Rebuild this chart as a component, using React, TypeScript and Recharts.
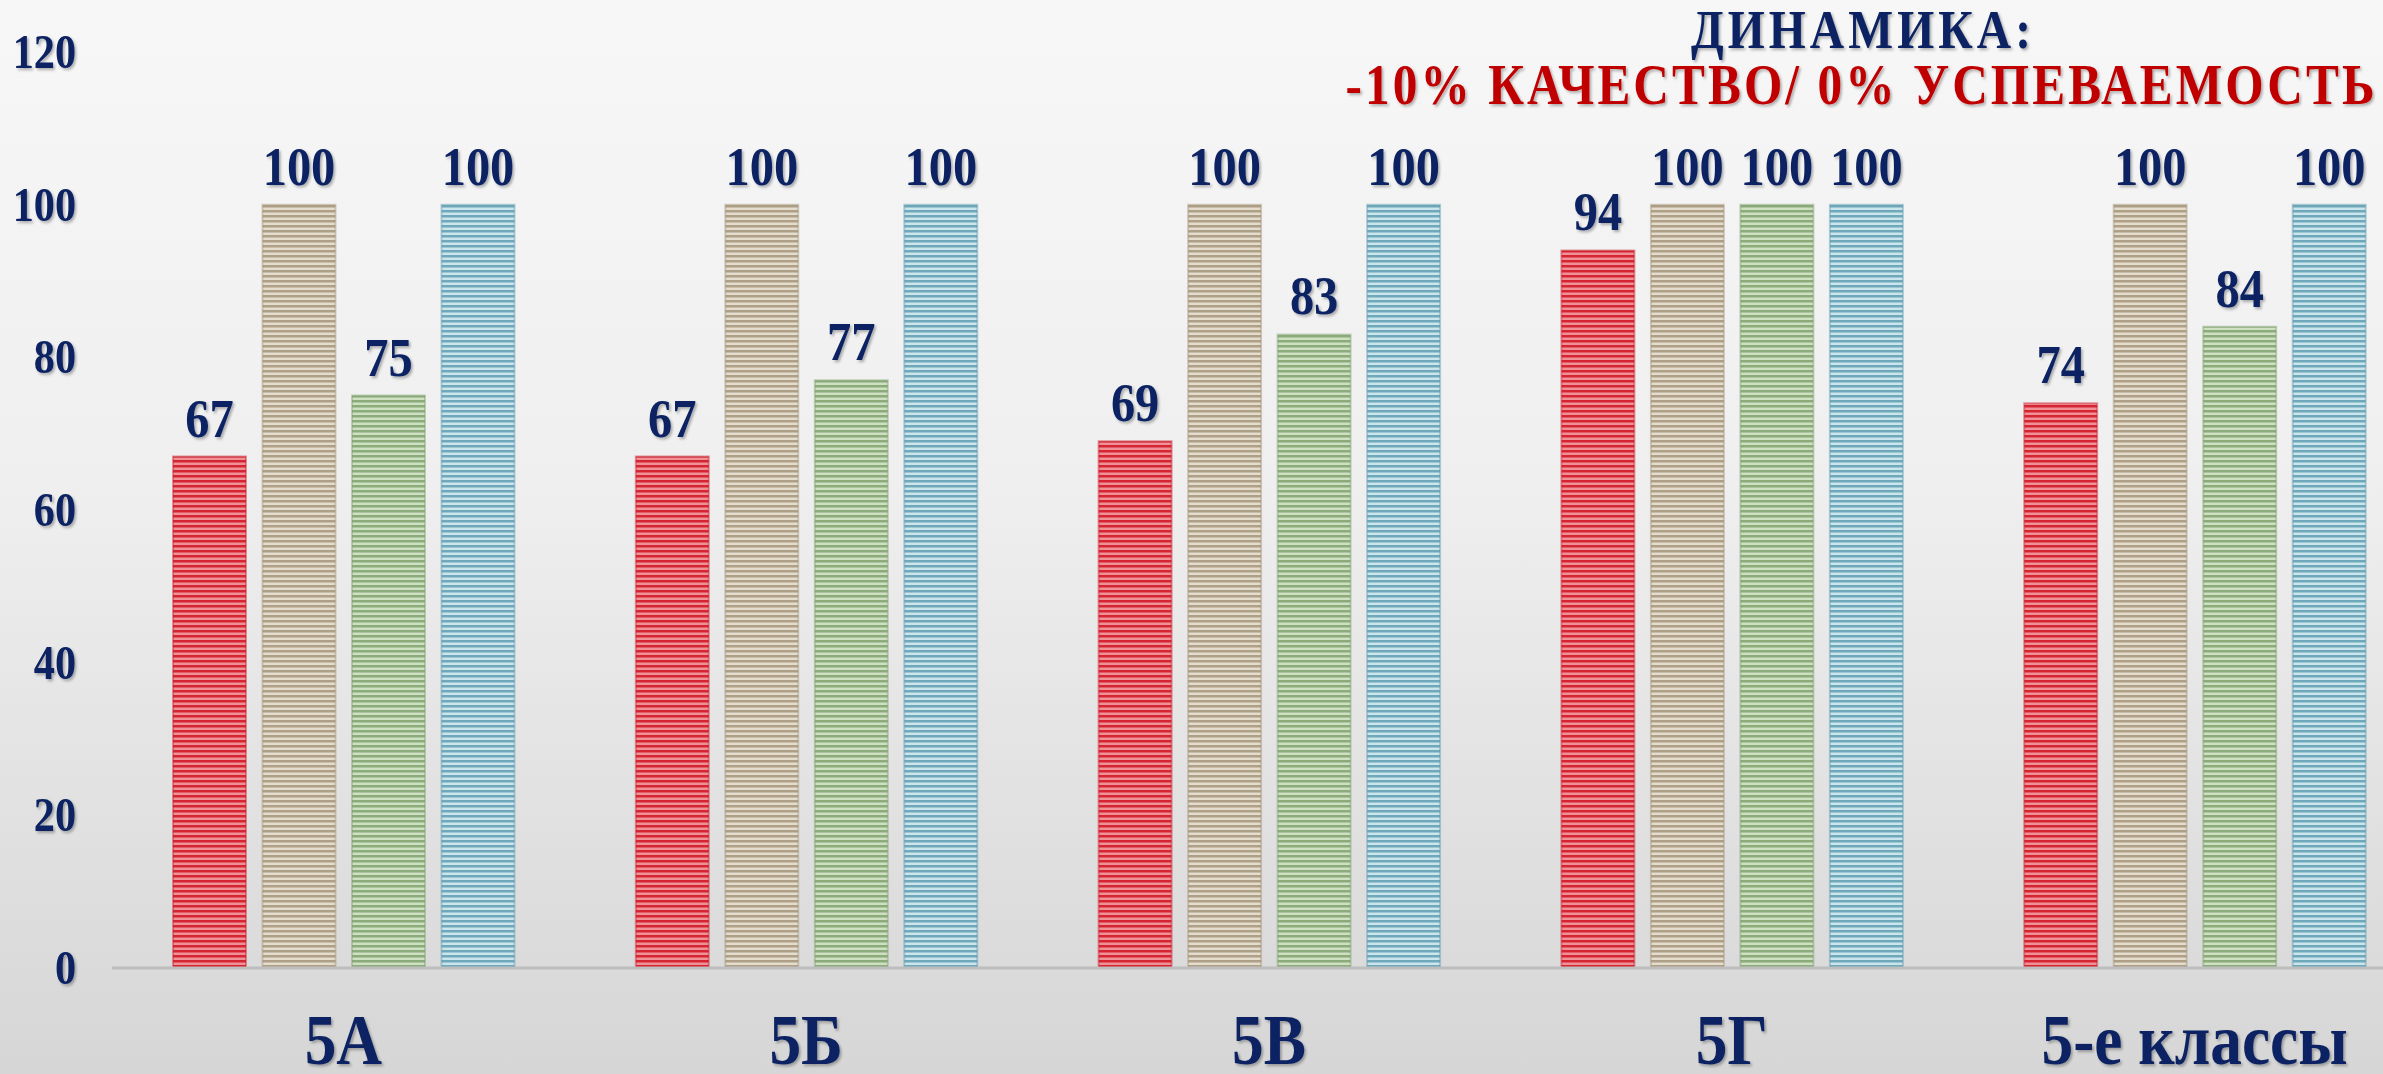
import React from 'react';
import { Bar, BarChart, LabelList, XAxis, YAxis } from 'recharts';

const classes = ['5А', '5Б', '5В', '5Г', '5-е классы'];
const qualityBefore = [67, 67, 69, 94, 74];
const progressBefore = [100, 100, 100, 100, 100];
const qualityAfter = [75, 77, 83, 100, 84];
const progressAfter = [100, 100, 100, 100, 100];
const yTicks = [0, 20, 40, 60, 80, 100, 120];
const titleLine1 = 'ДИНАМИКА:';
const titleLine2 = '-10% КАЧЕСТВО/ 0% УСПЕВАЕМОСТЬ';

const data = classes.map((name, i) => ({
  name,
  q1: qualityBefore[i],
  p1: progressBefore[i],
  q2: qualityAfter[i],
  p2: progressAfter[i],
}));

const NAVY = '#0b2462';
const RED_TEXT = '#c00000';
const FONT = '"Liberation Serif", "Times New Roman", serif';
const SQUEEZE = 0.88;

const ValueLabel = (props: any) => {
  const { x, y, width, value } = props;
  const cx = Number(x) + Number(width) / 2;
  const cy = Number(y) - 20;
  return (
    <text
      transform={`translate(${cx},${cy}) scale(${SQUEEZE},1)`}
      textAnchor="middle"
      fill={NAVY}
      fontFamily={FONT}
      fontWeight="bold"
      fontSize={55}
      filter="url(#textShadow)"
    >
      {value}
    </text>
  );
};

const YTick = (props: any) => {
  const { x, y, payload } = props;
  return (
    <text
      transform={`translate(${x},${y}) scale(${SQUEEZE},1)`}
      textAnchor="end"
      dominantBaseline="central"
      fill={NAVY}
      fontFamily={FONT}
      fontWeight="bold"
      fontSize={48}
      filter="url(#textShadow)"
    >
      {payload.value}
    </text>
  );
};

const XTick = (props: any) => {
  const { x, y, payload } = props;
  return (
    <text
      transform={`translate(${x},${y + 96}) scale(${SQUEEZE},1)`}
      textAnchor="middle"
      fill={NAVY}
      fontFamily={FONT}
      fontWeight="bold"
      fontSize={72}
      filter="url(#textShadow)"
    >
      {payload.value}
    </text>
  );
};

const Stripes = ({ id, dark, light }: { id: string; dark: string; light: string }) => (
  <pattern id={id} patternUnits="userSpaceOnUse" width={10} height={5}>
    <rect width={10} height={5} fill={light} />
    <rect width={10} height={2.5} fill={dark} />
  </pattern>
);

export default function App() {
  return (
    <div
      style={{
        position: 'relative',
        width: 2383,
        height: 1074,
        overflow: 'hidden',
        background: 'linear-gradient(180deg, #f7f7f7 0%, #efefef 45%, #d6d6d6 100%)',
      }}
    >
      <style>{'body{margin:0}'}</style>
      <svg width={0} height={0} style={{ position: 'absolute' }}>
        <defs>
          <Stripes id="stripeRed" dark="#d52532" light="#f09198" />
          <Stripes id="stripeBeige" dark="#ae9f87" light="#e4dccd" />
          <Stripes id="stripeGreen" dark="#8cab7b" light="#cde0c2" />
          <Stripes id="stripeBlue" dark="#6fa8ba" light="#cbe5ed" />
          <filter id="textShadow" x="-20%" y="-20%" width="140%" height="140%">
            <feDropShadow dx="2" dy="2" stdDeviation="1.5" floodColor="#000" floodOpacity="0.3" />
          </filter>
        </defs>
      </svg>

      <BarChart
        width={2426}
        height={1074}
        data={data}
        margin={{ top: 52, right: 0, bottom: 0, left: 0 }}
        barSize={73}
        barGap={16.5}
      >
        <XAxis
          dataKey="name"
          height={106}
          axisLine={{ stroke: '#bdbdbd', strokeWidth: 3 }}
          tickLine={false}
          tickSize={0}
          tickMargin={0}
          tick={<XTick />}
          interval={0}
        />
        <YAxis
          width={112}
          domain={[0, 120]}
          ticks={yTicks}
          axisLine={false}
          tickLine={false}
          tickSize={0}
          tickMargin={36}
          tick={<YTick />}
          interval={0}
        />
        <Bar dataKey="q1" name="Качество" fill="url(#stripeRed)" stroke="#c8202c" strokeOpacity={0.45} strokeWidth={2} isAnimationActive={false}>
          <LabelList dataKey="q1" content={<ValueLabel />} />
        </Bar>
        <Bar dataKey="p1" name="Успеваемость" fill="url(#stripeBeige)" stroke="#a29479" strokeOpacity={0.45} strokeWidth={2} isAnimationActive={false}>
          <LabelList dataKey="p1" content={<ValueLabel />} />
        </Bar>
        <Bar dataKey="q2" name="Качество (новое)" fill="url(#stripeGreen)" stroke="#80a070" strokeOpacity={0.45} strokeWidth={2} isAnimationActive={false}>
          <LabelList dataKey="q2" content={<ValueLabel />} />
        </Bar>
        <Bar dataKey="p2" name="Успеваемость (новое)" fill="url(#stripeBlue)" stroke="#5f9aad" strokeOpacity={0.45} strokeWidth={2} isAnimationActive={false}>
          <LabelList dataKey="p2" content={<ValueLabel />} />
        </Bar>
      </BarChart>

      <svg width={2383} height={130} style={{ position: 'absolute', left: 0, top: 0, pointerEvents: 'none' }}>
        <text
          transform={`translate(1861,48) scale(${SQUEEZE},1)`}
          textAnchor="middle"
          fill={NAVY}
          fontFamily={FONT}
          fontWeight="bold"
          fontSize={54}
          textLength={340 / SQUEEZE}
          lengthAdjust="spacing"
          filter="url(#textShadow)"
        >
          {titleLine1}
        </text>
        <text
          transform={`translate(1860,104) scale(${SQUEEZE},1)`}
          textAnchor="middle"
          fill={RED_TEXT}
          fontFamily={FONT}
          fontWeight="bold"
          fontSize={56}
          textLength={1029 / SQUEEZE}
          lengthAdjust="spacing"
          filter="url(#textShadow)"
        >
          {titleLine2}
        </text>
      </svg>
    </div>
  );
}
